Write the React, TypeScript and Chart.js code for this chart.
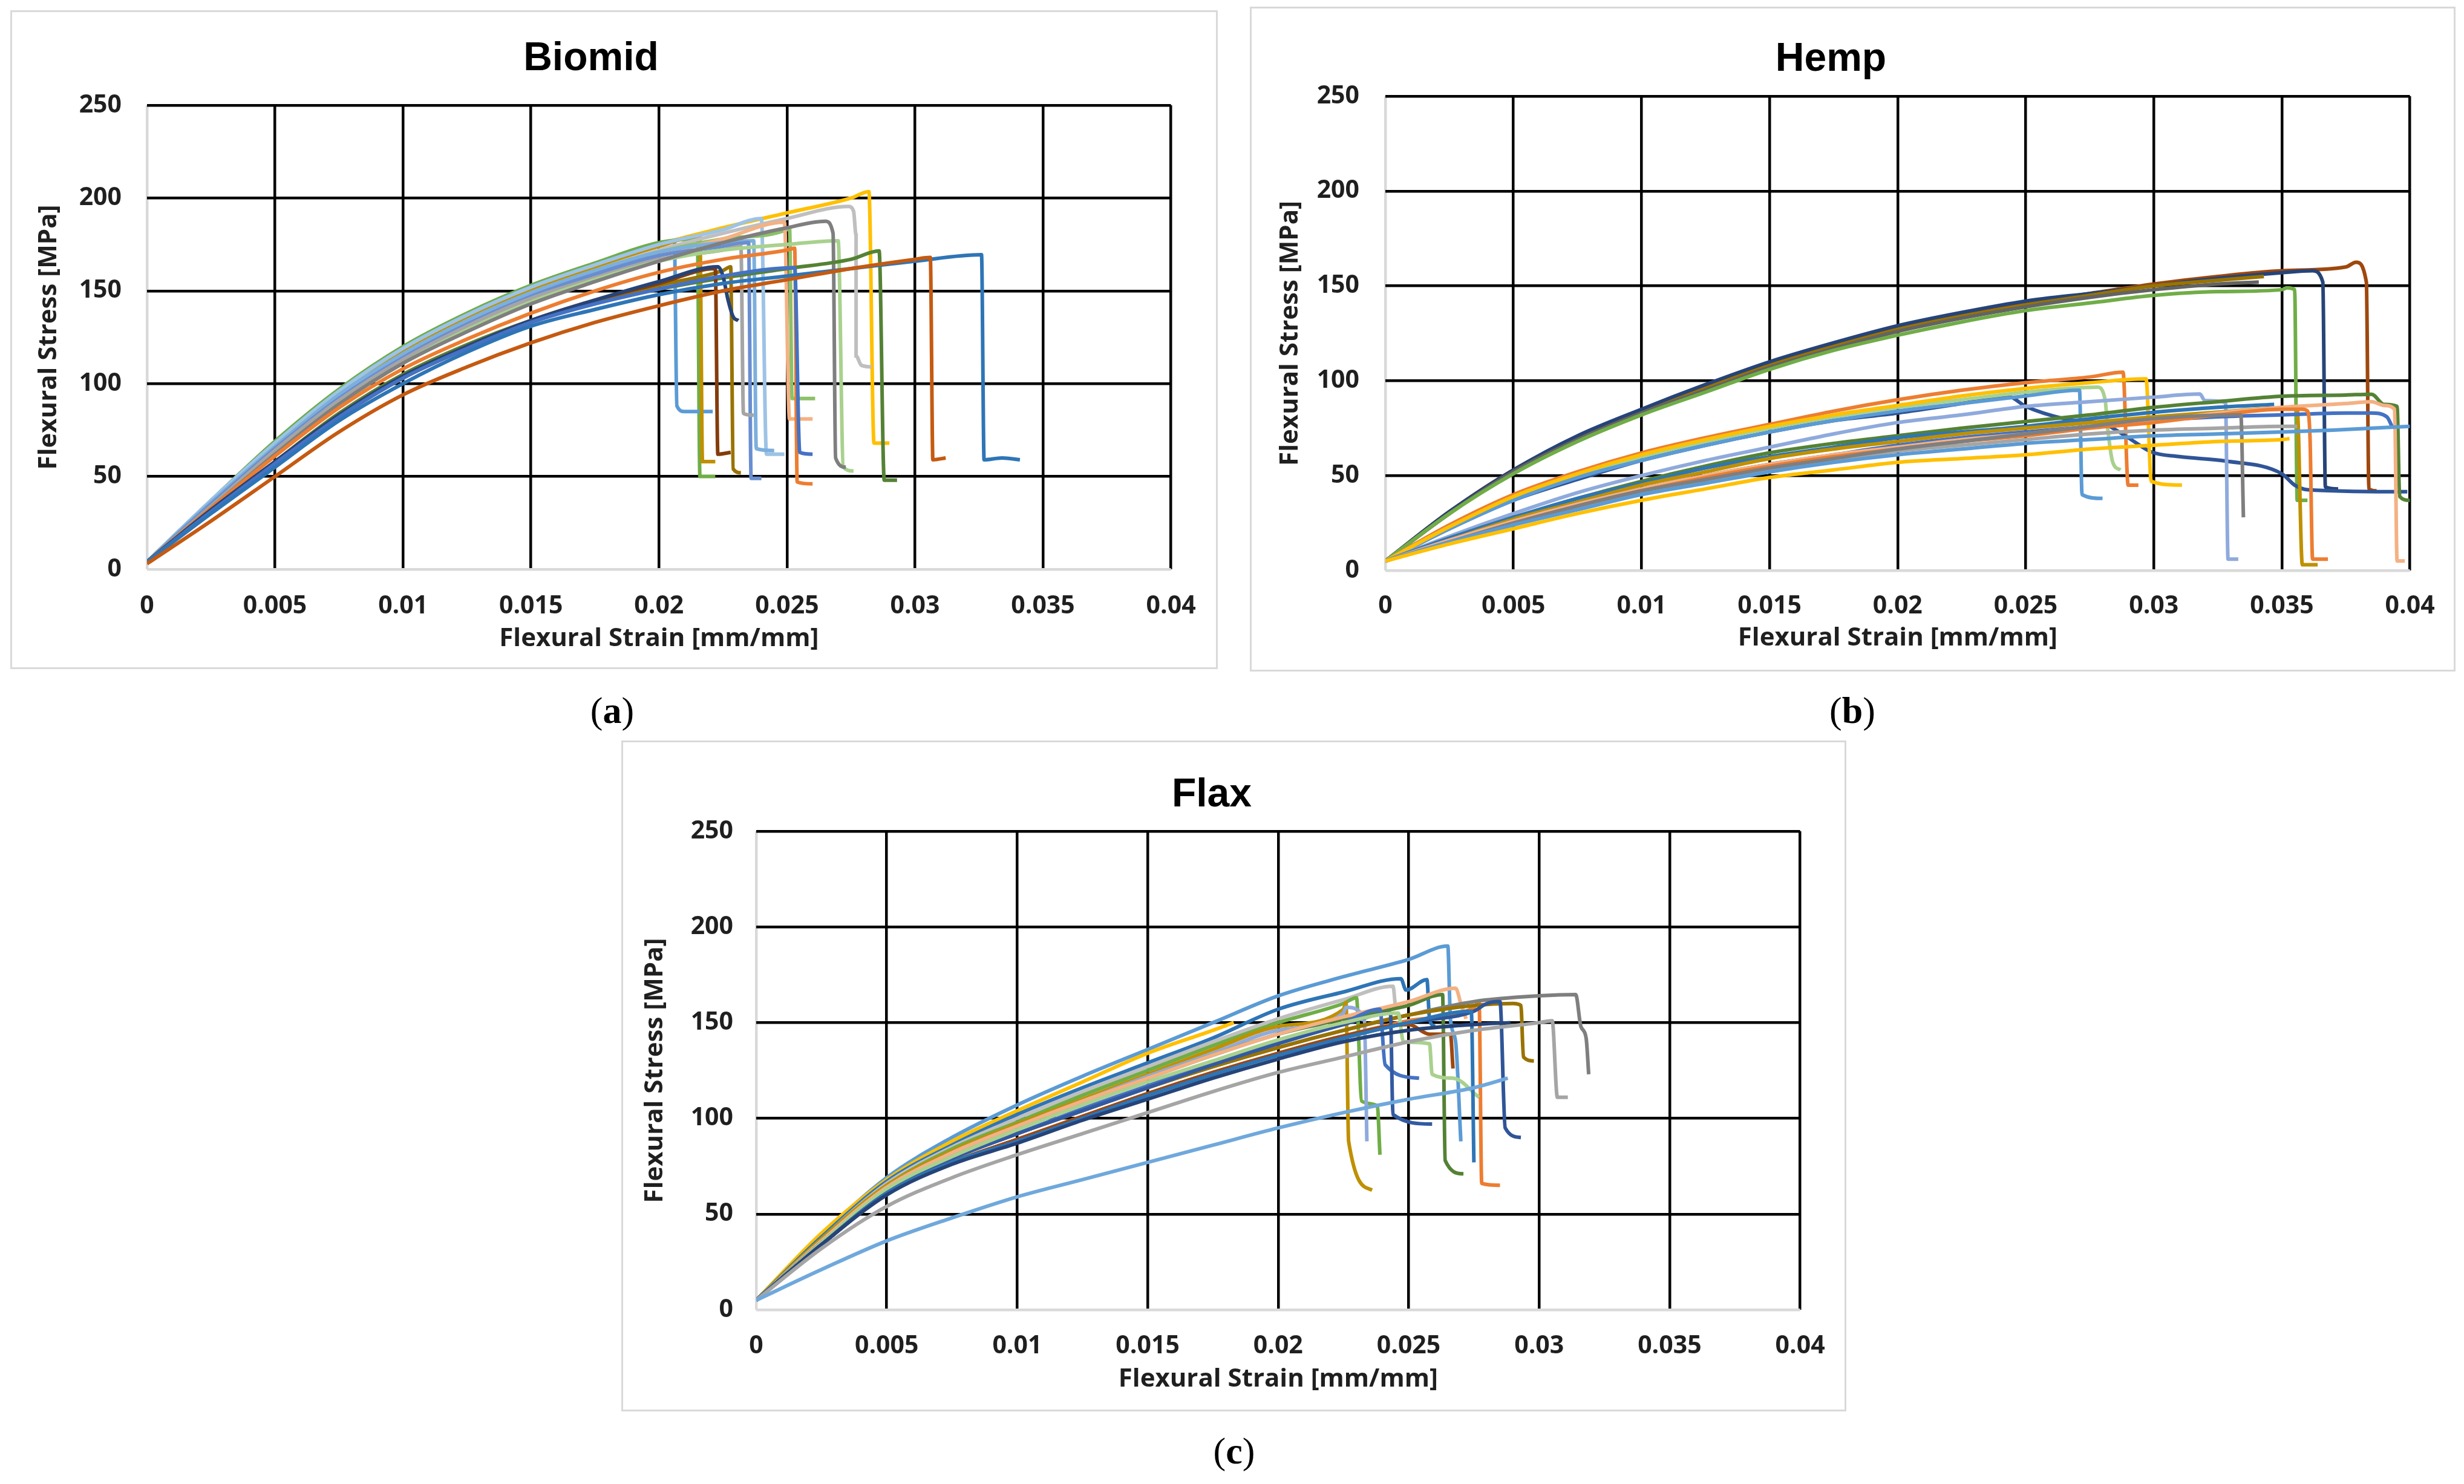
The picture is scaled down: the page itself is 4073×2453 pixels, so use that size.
import React, { useEffect, useRef } from 'react';
import { Chart, registerables } from 'chart.js';

Chart.register(...registerables);

// ---------- shared axis ticks ----------
const strainTicks = [0, 0.005, 0.01, 0.015, 0.02, 0.025, 0.03, 0.035, 0.04];
const strainTickLabels = ['0', '0.005', '0.01', '0.015', '0.02', '0.025', '0.03', '0.035', '0.04'];
const stressTicks = [0, 50, 100, 150, 200, 250];
const stressTickLabels = ['0', '50', '100', '150', '200', '250'];
const xAxisTitle = 'Flexural Strain [mm/mm]';
const yAxisTitle = 'Flexural Stress [MPa]';

// ---------- (a) Biomid ----------
const biomidGrid = [0, 0.0025, 0.005, 0.0075, 0.01, 0.0125, 0.015, 0.0175, 0.02, 0.0225, 0.025, 0.0275, 0.03];
const biomidColors = [
  '#C55A11', '#2E75B6', '#4472C4', '#264478', '#843C0C', '#997300', '#548235', '#ED7D31',
  '#7F7F7F', '#A9D18E', '#A5A5A5', '#698ED0', '#7CAFDD', '#F4B183', '#8CC168', '#BFBFBF',
  '#9DC3E6', '#BF9000', '#5B9BD5', '#70AD47', '#FFC000',
];
const biomidRise = [
  [3, 26, 50, 74, 94, 109, 122, 133, 142, 150, 156, 162, 167],
  [4, 30, 55, 80, 100, 117, 131, 140, 148, 154, 158, 162, 166],
  [4, 31, 57, 82, 103, 119, 133, 143, 151, 158],
  [4, 32, 58, 83, 104, 120, 134, 145, 155],
  [4, 32, 58, 83, 104, 120, 134, 145, 154],
  [4, 31, 57, 82, 103, 119, 133, 144, 153, 161],
  [4, 31, 58, 84, 105, 121, 134, 144, 151, 157, 162, 167],
  [4, 33, 61, 87, 108, 124, 138, 150, 160, 167],
  [4, 33, 62, 89, 111, 128, 143, 155, 166, 176, 184],
  [4, 33, 62, 89, 111, 129, 144, 156, 166, 172, 175],
  [4, 34, 64, 91, 113, 131, 146, 157, 167, 172],
  [4, 35, 65, 92, 114, 132, 147, 159, 169, 174],
  [4, 36, 66, 94, 116, 134, 149, 161, 171, 176],
  [4, 34, 64, 91, 113, 131, 146, 158, 169, 178],
  [4, 35, 66, 94, 116, 134, 149, 161, 171, 178, 183],
  [4, 35, 65, 93, 116, 134, 149, 161, 172, 181, 189],
  [4, 37, 68, 96, 119, 137, 152, 164, 175, 183],
  [4, 36, 67, 95, 118, 136, 151, 163, 174],
  [4, 37, 68, 96, 119, 137, 152, 164, 175],
  [4, 37, 69, 97, 120, 138, 153, 165, 176],
  [4, 36, 66, 94, 117, 135, 150, 163, 175, 184, 192, 200],
];
const biomidEnd = [
  [[0.0306, 168], [0.0307, 59], [0.0312, 60]],
  [[0.0326, 169.5], [0.0327, 59], [0.0334, 60], [0.0341, 59]],
  [[0.0253, 162.5], [0.0255, 63], [0.026, 62]],
  [[0.0223, 163], [0.0225, 158], [0.0227, 145], [0.0229, 136], [0.0231, 134]],
  [[0.0222, 162], [0.0223, 62], [0.0228, 63]],
  [[0.0228, 163], [0.0229, 54], [0.0232, 52]],
  [[0.0286, 171.5], [0.0288, 48], [0.0293, 48]],
  [[0.025, 172], [0.0253, 173], [0.0254, 47], [0.026, 46]],
  [[0.0265, 187.5], [0.0268, 181], [0.0269, 60], [0.0273, 55]],
  [[0.027, 177], [0.0272, 55], [0.0276, 53]],
  [[0.0232, 174], [0.0233, 84], [0.0237, 83]],
  [[0.0235, 176], [0.0236, 49], [0.024, 49]],
  [[0.0237, 177], [0.0238, 65], [0.0245, 64]],
  [[0.0249, 187], [0.0251, 81], [0.026, 81]],
  [[0.0251, 184], [0.0252, 92], [0.0261, 92]],
  [[0.0274, 195.5], [0.0276, 193], [0.0277, 180], [0.0277, 115], [0.0279, 110], [0.0283, 109]],
  [[0.024, 189], [0.0242, 62], [0.0249, 62]],
  [[0.0216, 179.5], [0.0217, 58], [0.0222, 58]],
  [[0.0206, 176.5], [0.0207, 88], [0.021, 85], [0.0221, 85]],
  [[0.0215, 178], [0.0216, 50], [0.0222, 50]],
  [[0.0282, 203.5], [0.0284, 68], [0.029, 68]],
];

// ---------- (b) Hemp ----------
const hempGrid = [0, 0.0025, 0.005, 0.0075, 0.01, 0.0125, 0.015, 0.0175, 0.02, 0.0225, 0.025, 0.0275, 0.03, 0.0325, 0.035, 0.0375];
const hempColors = [
  '#FFC000', '#5B9BD5', '#7F7F7F', '#A5A5A5', '#ED7D31', '#F4B183', '#4472C4', '#BF9000',
  '#2E75B6', '#548235', '#8FAADC',
  '#FFC000', '#5B9BD5', '#A9D18E', '#2F5597', '#ED7D31',
  '#70AD47', '#636363', '#997300', '#264478', '#9E480E',
];
const hempRise = [
  [5, 14, 22, 30, 37, 43, 49, 53, 57, 59, 61, 64, 66, 68, 69],
  [5, 15, 24, 32, 40, 46, 52, 57, 61, 64, 67, 69, 71, 72, 73],
  [5, 15, 25, 34, 42, 48, 54, 59, 64, 68, 72, 76, 80],
  [5, 15, 25, 33, 41, 47, 53, 58, 63, 66, 69, 72, 74, 75, 76],
  [5, 15, 25, 34, 42, 49, 55, 60, 64, 68, 71, 75, 78, 82, 85],
  [5, 16, 26, 35, 43, 50, 56, 61, 65, 69, 72, 76, 79, 83, 86, 88],
  [5, 16, 26, 35, 43, 50, 56, 61, 66, 70, 73, 76, 79, 81, 82, 83],
  [5, 16, 27, 36, 45, 52, 59, 64, 68, 72, 75, 78, 81, 83.5, 85.5],
  [5, 17, 28, 38, 46, 54, 60, 65, 70, 73, 76, 80, 83.4, 86],
  [5, 17, 28, 38, 47, 55, 62, 67, 71, 75, 78.5, 82, 86, 89, 91.8, 92.5],
  [5, 18, 30, 41, 50, 58, 65, 72, 78, 82, 86.5, 89, 91.4],
  [5, 23, 39, 51, 61, 69, 76, 82, 87, 92, 96, 99],
  [5, 22, 37, 49, 58, 66, 73, 79, 84, 88, 92],
  [5, 23, 38, 50, 60, 68, 75, 81, 86, 90, 94],
  [5, 22, 37, 48, 58, 66, 73, 79, 83, 88],
  [5, 24, 40, 52, 62, 70, 77, 84, 90, 95, 99, 102],
  [5, 30, 51, 68, 82, 94, 106, 116, 124, 131, 137, 141, 145, 147, 148],
  [5, 30, 52, 69, 83, 95, 107, 117, 126, 133, 139, 144, 148, 151],
  [5, 30, 52, 69, 83, 96, 108, 118, 127, 134, 140, 145, 150, 153],
  [5, 31, 53, 71, 85, 98, 110, 120, 129, 136, 142, 146, 150, 154, 157],
  [5, 31, 53, 70, 84, 97, 109, 119, 128, 135, 141, 146, 151, 155, 158, 160],
];
const hempEnd = [
  [[0.0353, 69.5]],
  [[0.037, 74], [0.04, 76]],
  [[0.0334, 82], [0.0335, 28]],
  [[0.0356, 76]],
  [[0.0358, 85], [0.036, 84], [0.0361, 70], [0.0362, 6], [0.0368, 6]],
  [[0.0385, 89], [0.039, 87], [0.0394, 85], [0.0395, 5], [0.0398, 5]],
  [[0.0385, 83], [0.0391, 81], [0.0393, 76]],
  [[0.0356, 85], [0.0358, 3], [0.0364, 3]],
  [[0.0347, 87.5]],
  [[0.0385, 92.9], [0.039, 87.5], [0.0395, 86.5], [0.0396, 39], [0.04, 37]],
  [[0.0318, 93], [0.032, 89.5], [0.0328, 88.5], [0.0329, 6], [0.0333, 6]],
  [[0.0297, 101], [0.0299, 47], [0.0311, 45]],
  [[0.0271, 95], [0.0272, 40], [0.028, 38]],
  [[0.0278, 96.6], [0.0281, 90], [0.0282, 75], [0.0284, 57], [0.0287, 53]],
  [[0.0243, 91.8], [0.025, 86.5], [0.0265, 80], [0.0281, 77], [0.029, 70], [0.0299, 62.5], [0.031, 60], [0.0328, 57.7], [0.035, 51], [0.0355, 45], [0.036, 42.6], [0.0399, 41.5]],
  [[0.0288, 104.5], [0.029, 45], [0.0294, 45]],
  [[0.0352, 149], [0.0355, 148], [0.0356, 37], [0.036, 37]],
  [[0.0341, 152]],
  [[0.0343, 155]],
  [[0.0362, 158], [0.0366, 152], [0.0367, 44], [0.0372, 43]],
  [[0.0379, 162.5], [0.0383, 152], [0.0384, 43], [0.0387, 42]],
];

// ---------- (c) Flax ----------
const flaxGrid = [0, 0.0025, 0.005, 0.0075, 0.01, 0.0125, 0.015, 0.0175, 0.02, 0.0225, 0.025, 0.0275, 0.03];
const flaxColors = [
  '#6FA8DC', '#A5A5A5', '#264478', '#2E75B6', '#2F5597', '#9E480E', '#A9D18E', '#335AA1',
  '#4472C4', '#997300', '#7F7F7F', '#ED7D31', '#F4B183', '#548235', '#8FAADC', '#BF9000',
  '#70AD47', '#BFBFBF', '#2E75B6', '#FFC000', '#5B9BD5',
];
const flaxRise = [
  [5, 21, 36, 48, 59, 68, 77, 86, 95, 103, 110, 116],
  [5, 32, 54, 69, 81, 92, 103, 114, 124, 132, 140, 146, 150],
  [5, 34, 60, 76, 87, 99, 110, 121, 131, 140, 146, 149],
  [5, 34, 61, 77, 88, 100, 112, 123, 133, 142, 150],
  [5, 34, 61, 77, 88, 100, 112, 123, 133, 142, 150, 156],
  [5, 34, 61, 77, 89, 101, 113, 124, 134, 143, 149],
  [5, 35, 63, 80, 94, 107, 119, 130, 141, 150],
  [5, 35, 62, 79, 92, 104, 116, 128, 139, 149],
  [5, 35, 62, 79, 92, 105, 117, 129, 140, 150],
  [5, 35, 62, 79, 92, 104, 116, 127, 137, 146, 154, 159],
  [5, 35, 62, 79, 92, 104, 116, 127, 137, 146, 154, 161, 164],
  [5, 34, 61, 77, 89, 101, 113, 124, 134, 143, 151, 158],
  [5, 36, 64, 82, 96, 109, 121, 133, 144, 153, 161],
  [5, 36, 64, 82, 96, 109, 121, 133, 144, 152, 159],
  [5, 36, 64, 82, 96, 109, 122, 134, 146, 155],
  [5, 37, 65, 83, 97, 110, 123, 136, 148, 157],
  [5, 37, 65, 84, 98, 112, 125, 138, 150, 160],
  [5, 37, 66, 85, 100, 114, 127, 140, 152, 162],
  [5, 38, 67, 86, 102, 116, 129, 142, 157, 166],
  [5, 40, 68, 88, 104, 119, 134, 146],
  [5, 39, 69, 90, 107, 122, 136, 150, 164, 174, 183],
];
const flaxEnd = [
  [[0.0288, 121]],
  [[0.0305, 151], [0.0307, 111], [0.0311, 111]],
  [[0.0289, 150]],
  [[0.0274, 156], [0.0275, 77]],
  [[0.028, 160], [0.0285, 161], [0.0287, 95], [0.0293, 90]],
  [[0.0258, 144], [0.0266, 144], [0.0267, 126]],
  [[0.0246, 155], [0.0248, 140], [0.0258, 139], [0.0259, 123], [0.0267, 121], [0.0277, 111]],
  [[0.0243, 155], [0.0244, 102], [0.0259, 97]],
  [[0.0239, 157], [0.0241, 128], [0.0254, 121]],
  [[0.029, 160], [0.0293, 159], [0.0294, 132], [0.0298, 130]],
  [[0.0314, 164.7], [0.0316, 148], [0.0318, 142], [0.0319, 123]],
  [[0.0277, 161], [0.0278, 66], [0.0285, 65]],
  [[0.0268, 168], [0.027, 160], [0.0272, 152]],
  [[0.0263, 164.7], [0.0264, 78], [0.0271, 71]],
  [[0.0226, 158], [0.0233, 152.6], [0.0234, 88]],
  [[0.0226, 160.5], [0.0227, 88], [0.0236, 62.5]],
  [[0.023, 163], [0.0232, 109], [0.0238, 106.5], [0.0239, 81]],
  [[0.0244, 169], [0.0245, 157]],
  [[0.0247, 173], [0.0249, 167], [0.0257, 172.5], [0.0258, 152], [0.026, 148]],
  [[0.0183, 150]],
  [[0.0265, 190], [0.0266, 152], [0.0268, 140], [0.027, 88]],
];

// ---------- layout (pixels) ----------
const PAGE_W = 4073;
const PAGE_H = 2453;

type PanelLayout = {
  title: string;
  label: string;
  left: number; top: number; width: number; height: number;
  plotLeft: number; plotTop: number; rightPad: number; bottomSpace: number;
  titleY: number; xTickGap: number; xTitleFromBottom: number; yTitleX: number; yTickGap: number;
  labelX: number; labelY: number;
  grid: number[]; colors: string[]; rise: number[][]; end: number[][][];
};

const panelLayouts: PanelLayout[] = [
  {
    title: 'Biomid', label: 'a',
    left: 17, top: 17, width: 1996, height: 1089,
    plotLeft: 226, plotTop: 157, rightPad: 76, bottomSpace: 165,
    titleY: 81, xTickGap: 61, xTitleFromBottom: 50, yTitleX: 64, yTickGap: 42,
    labelX: 1012, labelY: 1174,
    grid: biomidGrid, colors: biomidColors, rise: biomidRise, end: biomidEnd,
  },
  {
    title: 'Hemp', label: 'b',
    left: 2066, top: 11, width: 1993, height: 1099,
    plotLeft: 224, plotTop: 148, rightPad: 72, bottomSpace: 167,
    titleY: 88, xTickGap: 59, xTitleFromBottom: 55, yTitleX: 67, yTickGap: 43,
    labelX: 3062, labelY: 1174,
    grid: hempGrid, colors: hempColors, rise: hempRise, end: hempEnd,
  },
  {
    title: 'Flax', label: 'c',
    left: 1027, top: 1224, width: 2025, height: 1109,
    plotLeft: 223, plotTop: 150, rightPad: 73, bottomSpace: 168,
    titleY: 91, xTickGap: 60, xTitleFromBottom: 53, yTitleX: 56, yTickGap: 38,
    labelX: 2040, labelY: 2398,
    grid: flaxGrid, colors: flaxColors, rise: flaxRise, end: flaxEnd,
  },
];

const TITLE_SIZE = 66;
const TICK_SIZE = 41;
const AXIS_TITLE_SIZE = 42;
const LINE_WIDTH = 6;
const GRID_WIDTH = 4.5;
const textColor = '#1f1f1f';
const axisGray = '#d9d9d9';

function Panel({ p }: { p: PanelLayout }) {
  const ref = useRef<HTMLCanvasElement | null>(null);

  useEffect(() => {
    const canvas = ref.current;
    if (!canvas) return;
    const datasets = p.rise.map((values, i) => {
      const pts = values.map((v, k) => ({ x: p.grid[k], y: v }));
      p.end[i].forEach(([x, y]) => pts.push({ x, y }));
      return {
        data: pts,
        borderColor: p.colors[i],
        backgroundColor: p.colors[i],
        borderWidth: LINE_WIDTH,
        pointRadius: 0,
        fill: false,
        cubicInterpolationMode: 'monotone' as const,
      };
    });

    const titleLH = TITLE_SIZE * 1.2;
    const tickLH = TICK_SIZE * 1.2;
    const axisLH = AXIS_TITLE_SIZE * 1.2;
    const tickFont = { family: "'Open Sans', 'DejaVu Sans', sans-serif", size: TICK_SIZE, weight: 'bold' as const };
    const axisFont = { family: "'Open Sans', 'DejaVu Sans', sans-serif", size: AXIS_TITLE_SIZE, weight: 'bold' as const };
    const gridColor = (ctx: any) => (ctx.tick && ctx.tick.value === 0 ? axisGray : '#000');

    const chart = new Chart(canvas, {
      type: 'line',
      data: { datasets },
      options: {
        responsive: false,
        animation: false,
        events: [],
        layout: { padding: { left: 0, right: p.rightPad, top: 0, bottom: 0 } },
        plugins: {
          legend: { display: false },
          tooltip: { enabled: false },
          title: {
            display: true,
            text: p.title,
            color: '#000',
            font: { family: "'Liberation Sans', Arial, sans-serif", size: TITLE_SIZE, weight: 'bold' },
            padding: { top: p.titleY - titleLH / 2, bottom: p.plotTop - p.titleY - titleLH / 2 },
          },
        },
        scales: {
          x: {
            type: 'linear',
            min: 0,
            max: 0.04,
            afterBuildTicks: (s: any) => { s.ticks = strainTicks.map((v) => ({ value: v })); },
            afterFit: (s: any) => { s.height = p.bottomSpace; },
            ticks: {
              autoSkip: false,
              maxRotation: 0,
              minRotation: 0,
              font: tickFont,
              color: textColor,
              padding: p.xTickGap - tickLH / 2,
              callback: (v: any) => strainTickLabels[strainTicks.indexOf(Number(v))],
            },
            grid: { drawTicks: false, lineWidth: GRID_WIDTH, color: gridColor },
            border: { display: false },
            title: {
              display: true,
              text: xAxisTitle,
              color: textColor,
              font: axisFont,
              padding: { top: 0, bottom: p.xTitleFromBottom - axisLH / 2 },
            },
          },
          y: {
            type: 'linear',
            min: 0,
            max: 250,
            afterBuildTicks: (s: any) => { s.ticks = stressTicks.map((v) => ({ value: v })); },
            afterFit: (s: any) => { s.width = p.plotLeft; },
            ticks: {
              font: tickFont,
              color: textColor,
              padding: p.yTickGap,
              callback: (v: any) => stressTickLabels[stressTicks.indexOf(Number(v))],
            },
            grid: { drawTicks: false, lineWidth: GRID_WIDTH, color: gridColor },
            border: { display: false },
            title: {
              display: true,
              text: yAxisTitle,
              color: textColor,
              font: axisFont,
              padding: { top: p.yTitleX - axisLH / 2, bottom: 0 },
            },
          },
        },
      },
    } as any);

    return () => { chart.destroy(); };
  }, [p]);

  return (
    <>
      <canvas
        ref={ref}
        width={p.width}
        height={p.height}
        style={{ position: 'absolute', left: p.left, top: p.top, width: p.width, height: p.height, background: '#fff' }}
      />
      <div
        style={{
          position: 'absolute', left: p.left, top: p.top, width: p.width, height: p.height,
          border: '3px solid #d9d9d9', boxSizing: 'border-box', pointerEvents: 'none',
        }}
      />
      <div
        style={{
          position: 'absolute', left: p.labelX, top: p.labelY, transform: 'translate(-50%, -50%)',
          fontFamily: "'Liberation Serif', 'DejaVu Serif', serif", fontSize: 62, lineHeight: 1, color: '#000',
          whiteSpace: 'nowrap',
        }}
      >
        (<b>{p.label}</b>)
      </div>
    </>
  );
}

export default function App() {
  return (
    <div style={{ position: 'absolute', left: 0, top: 0, width: PAGE_W, height: PAGE_H, background: '#fff', overflow: 'hidden' }}>
      {panelLayouts.map((p) => (
        <Panel key={p.title} p={p} />
      ))}
    </div>
  );
}
